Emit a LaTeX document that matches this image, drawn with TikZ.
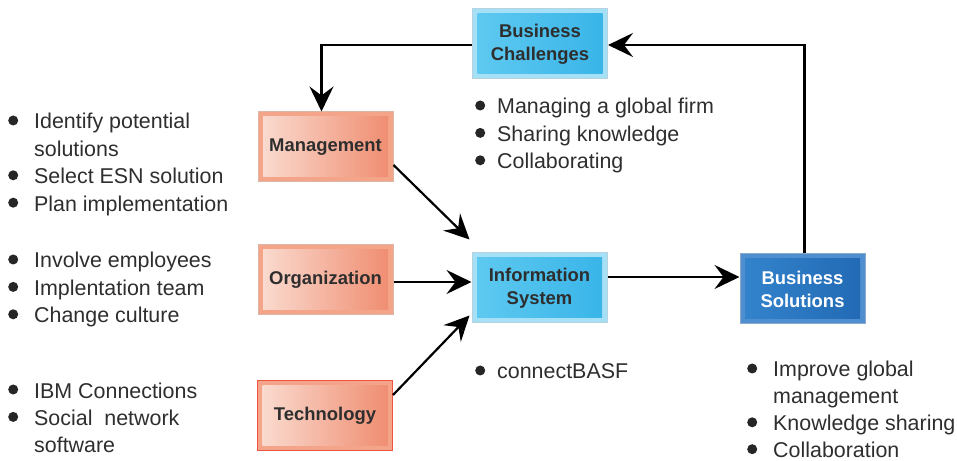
\documentclass[tikz,border=0pt]{standalone}
\usepackage{fontspec}
\setmainfont{Liberation Sans}
\usepackage{tikz}
\usetikzlibrary{arrows.meta}

\definecolor{salmonbev}{HTML}{F4A488}
\definecolor{salmonlt}{HTML}{FADDD2}
\definecolor{salmondk}{HTML}{EF8B6E}
\definecolor{techbord}{HTML}{EE5444}
\definecolor{cyanbev}{HTML}{A6E0F6}
\definecolor{cyanlt}{HTML}{5FCAF1}
\definecolor{cyandk}{HTML}{38B4E8}
\definecolor{solbev}{HTML}{4F8FD0}
\definecolor{sollt}{HTML}{3384CC}
\definecolor{soldk}{HTML}{2269B4}
\definecolor{labeltext}{HTML}{2E2E2E}

\newcommand\blt{\tikz[baseline=-8.5bp]\fill[black!85] (0bp,0bp) circle (5bp);}

\tikzset{
  box/.style={rectangle,minimum width=135bp,minimum height=70bp,inner sep=0,
    align=center,font=\bfseries\fontsize{18.5}{23}\selectfont,text=labeltext},
  bevel/.style n args={3}{fill=#1,draw=#1!80!black!60!white,line width=1bp,
    path picture={\shade[left color=#2,right color=#3]
      ([shift={(5bp,-5bp)}]path picture bounding box.north west) rectangle
      ([shift={(-5bp,5bp)}]path picture bounding box.south east);}},
  flow/.style={draw=black,line width=2.2bp,-{Stealth[length=25bp,width=24bp,inset=9bp]}},
  listtext/.style={anchor=base west,inner sep=0,text=labeltext,
    font=\fontsize{21.5}{27.5}\selectfont}
}

\begin{document}
\begin{tikzpicture}[x=1bp,y=-1bp]
\useasboundingbox (0,0) rectangle (957,461);

% boxes
\node[box,bevel={salmonbev}{salmonlt}{salmondk}] at (325.5,147) (mgmt) {Management};
\node[box,bevel={salmonbev}{salmonlt}{salmondk}] at (325.5,280) (org) {Organization};
\node[box,bevel={salmonbev}{salmonlt}{salmondk},draw=techbord] at (325,415.5) (tech) {Technology};
\node[box,bevel={cyanbev}{cyanlt}{cyandk}] at (539.5,288) (info) {Information\\System};
\node[box,bevel={cyanbev}{cyanlt}{cyandk}] at (540,44) (chal) {Business\\Challenges};
\node[box,bevel={solbev}{sollt}{soldk},minimum width=125bp,text=white] at (802.5,289) (sol) {Business\\Solutions};

% lists
\node[listtext] at (8,129) (mgmtlist) {\begin{tabular}[t]{@{}p{26bp}@{}l@{}}
  \blt&Identify potential\\ &solutions\\ \blt&Select ESN solution\\ \blt&Plan implementation\end{tabular}};
\node[listtext] at (8,268) (orglist) {\begin{tabular}[t]{@{}p{26bp}@{}l@{}}
  \blt&Involve employees\\ \blt&Implentation team\\ \blt&Change culture\end{tabular}};
\node[listtext] at (8,398) (techlist) {\begin{tabular}[t]{@{}p{26bp}@{}l@{}}
  \blt&IBM Connections\\ \blt&Social\ \ network\\ &software\end{tabular}};
\node[listtext] at (475,114) (challist) {\begin{tabular}[t]{@{}p{22bp}@{}l@{}}
  \blt&Managing a global firm\\ \blt&Sharing knowledge\\ \blt&Collaborating\end{tabular}};
\node[listtext] at (475,379) (infolist) {\begin{tabular}[t]{@{}p{22bp}@{}l@{}}
  \blt&connectBASF\end{tabular}};
\node[listtext,font=\fontsize{21.5}{27}\selectfont] at (747,377) (sollist) {\begin{tabular}[t]{@{}p{26bp}@{}l@{}}
  \blt&Improve global\\ &management\\ \blt&Knowledge sharing\\ \blt&Collaboration\end{tabular}};

% connectors
\draw[flow] ([yshift=-18bp]mgmt.east) -- ([shift={(-2bp,13bp)}]info.north west);
\draw[flow] ([yshift=-2bp]org.east) -- ([yshift=-2bp]org.east -| info.west);
\draw[flow] ([yshift=-15bp]tech.north east) -- ([shift={(-2bp,8bp)}]info.south west);
\draw[flow] ([yshift=11bp]info.east) -- ([yshift=11bp]info.east -| sol.west);
\draw[flow] ([xshift=2bp]sol.north) |- ([yshift=-1bp]chal.east);
\draw[flow] ([yshift=-1bp]chal.west) -| ([xshift=-4bp]mgmt.north);
\end{tikzpicture}
\end{document}
